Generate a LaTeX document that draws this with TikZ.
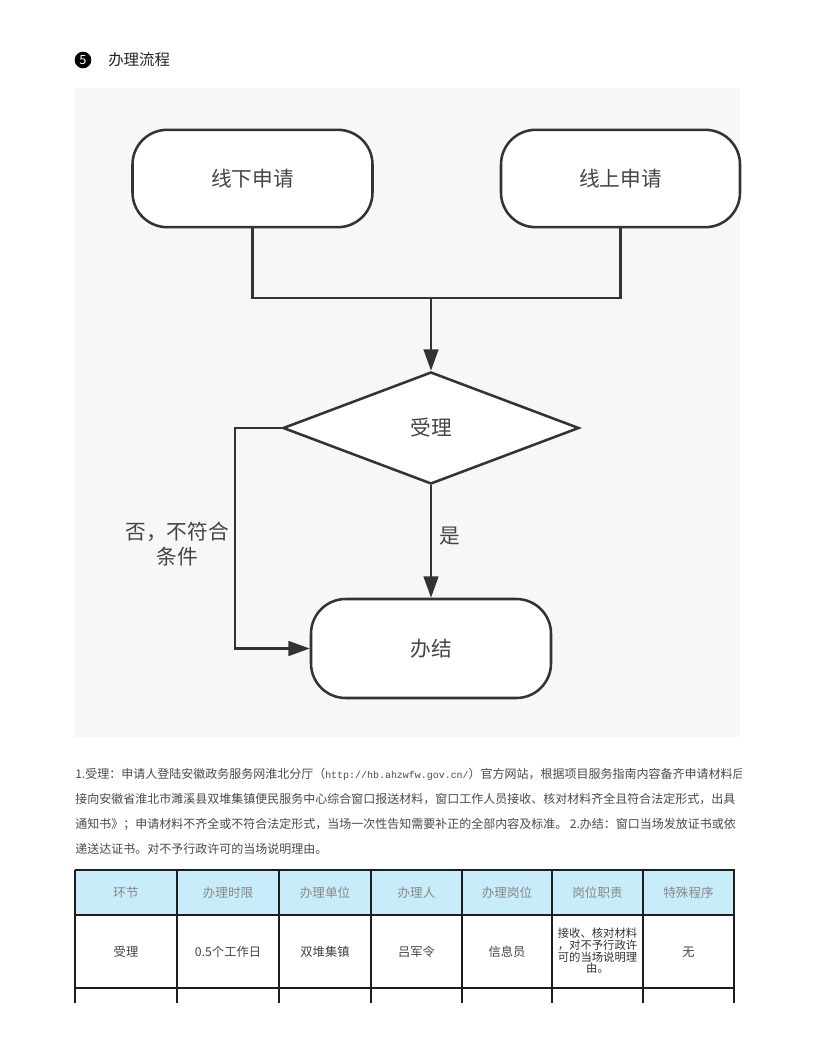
\documentclass[tikz,border=0pt]{standalone}
\usepackage{fontspec}
\setmainfont{Noto Sans CJK SC}
\newfontfamily\monof{Liberation Mono}[Scale=0.83]
\usetikzlibrary{shapes.geometric,arrows.meta}
\definecolor{ln}{HTML}{333333}
\definecolor{txt}{HTML}{444444}
\definecolor{ptxt}{HTML}{4A4A4A}
\definecolor{panel}{HTML}{F7F7F7}
\definecolor{hdr}{HTML}{C8ECFA}
\definecolor{htxt}{HTML}{888888}
\definecolor{tl}{HTML}{1E1E1E}
\tikzset{
  term/.style={draw=ln, line width=1.9pt, fill=white, rounded corners=26pt,
    minimum width=180pt, minimum height=73pt, inner sep=0pt,
    font=\fontsize{15.5pt}{18pt}\selectfont, text=txt},
  dec/.style={diamond, draw=ln, line width=1.9pt, fill=white,
    minimum width=222pt, minimum height=84pt, inner sep=0pt,
    font=\fontsize{15.5pt}{18pt}\selectfont, text=txt},
  conn/.style={draw=ln, line width=1.9pt},
  arr/.style={conn, -{Triangle[length=16pt,width=11pt]}},
  lbl/.style={font=\fontsize{15.5pt}{18.75pt}\selectfont, text=txt, inner sep=0pt, align=center},
  para/.style={anchor=west, inner sep=0pt, font=\fontsize{9pt}{11pt}\selectfont, text=ptxt},
  tline/.style={draw=tl, line width=1.5pt},
  th/.style={font=\fontsize{9.4pt}{11pt}\selectfont, text=htxt, inner sep=0pt},
  td/.style={font=\fontsize{9.2pt}{11pt}\selectfont, text=txt, inner sep=0pt, align=center},
}
\begin{document}
\begin{tikzpicture}[x=0.75pt,y=-0.75pt]
\useasboundingbox (0,0) rectangle (815,1055);
\fill[white] (0,0) rectangle (815,1055);

% heading
\node[circle, fill=black, minimum size=12.5pt, inner sep=0pt, text=white,
      font=\fontsize{9.5pt}{10pt}\selectfont] (num) at (83,60) {5};
\node[anchor=west, inner sep=0pt, font=\fontsize{11.6pt}{13pt}\selectfont, text=black!85] (title) at (108,60) {办理流程};

% panel
\fill[panel] (74,88) rectangle (740,737);

% flowchart nodes
\node[term] (L) at (252.5,178.5) {线下申请};
\node[term, minimum width=179.25pt] (R) at (620.5,178.5) {线上申请};
\node[dec] (D) at (431,428) {受理};
\node[term, minimum height=74.25pt] (E) at (431,648.5) {办结};

\coordinate (j) at (431,298);
\coordinate (b) at (235,428);

\draw[conn] (L.south) |- (j) -| (R.south);
\draw[arr] (j) -- (D.north);
\draw[arr] (D.south) -- (E.north);
\node[lbl, anchor=west] (yes) at (439,536) {是};
\draw[arr] (D.west) -- (b) |- (E.west);
\node[lbl] (no) at (177,544.5) {否，不符合\\条件};

% paragraph
\begin{scope}
\clip (70,755) rectangle (741,865);
\node[para] (p1) at (75,774) {1.受理：申请人登陆安徽政务服务网淮北分厅（{\monof http://hb.ahzwfw.gov.cn/}）官方网站，根据项目服务指南内容备齐申请材料后};
\node[para] (p2) at (75,799) {接向安徽省淮北市濉溪县双堆集镇便民服务中心综合窗口报送材料，窗口工作人员接收、核对材料齐全且符合法定形式，出具};
\node[para] (p3) at (75,824) {通知书》；申请材料不齐全或不符合法定形式，当场一次性告知需要补正的全部内容及标准。 2.办结：窗口当场发放证书或依};
\node[para] (p4) at (75,849) {递送达证书。对不予行政许可的当场说明理由。};
\end{scope}

% table
\fill[hdr] (75,870) rectangle (734,915);
\foreach \x/\t [count=\i] in {126/环节,228/办理时限,325/办理单位,416.5/办理人,507/办理岗位,597.5/岗位职责,688.5/特殊程序}
  \node[th] (h\i) at (\x,893) {\t};
\node[td] (c1) at (126,952) {受理};
\node[td] (c2) at (228,952) {0.5个工作日};
\node[td] (c3) at (325,952) {双堆集镇};
\node[td] (c4) at (416.5,952) {吕军令};
\node[td] (c5) at (507,952) {信息员};
\node[td, font=\fontsize{8.5pt}{8.7pt}\selectfont, text=black!80] (c6) at (597.5,951) {接收、核对材料\\，对不予行政许\\可的当场说明理\\由。};
\node[td] (c7) at (688.5,952) {无};
\foreach \x in {75,177,279,371,462,552,643,734}
  \draw[tline] (\x,870) -- (\x,1003);
\draw[tline] (74.5,870) -- (734.5,870);
\draw[tline] (75,915) -- (734,915);
\draw[tline] (75,988) -- (734,988);
\end{tikzpicture}
\end{document}
